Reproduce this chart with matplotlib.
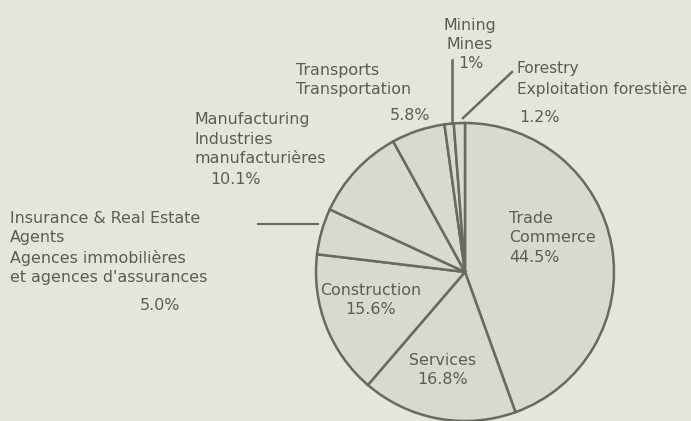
import matplotlib.pyplot as plt

# share of businesses by sector (clockwise from 12 o'clock)
sectors = ['Trade', 'Services', 'Construction', 'Insurance', 'Manufacturing',
           'Transportation', 'Mining', 'Forestry']
shares = [44.5, 16.8, 15.6, 5.0, 10.1, 5.8, 1.0, 1.2]

labels = {
    'Trade': 'Trade\nCommerce\n44.5%',
    'Services': 'Services\n16.8%',
    'Construction': 'Construction\n15.6%',
    'Manufacturing': 'Manufacturing\nIndustries\nmanufacturières',
    'Manufacturing_pct': '10.1%',
    'Transportation': 'Transports\nTransportation',
    'Transportation_pct': '5.8%',
    'Mining': 'Mining\nMines',
    'Mining_pct': '1%',
    'Forestry': 'Forestry\nExploitation forestière',
    'Forestry_pct': '1.2%',
    'Insurance': 'Insurance & Real Estate\nAgents\nAgences immobilières\net agences d\'assurances',
    'Insurance_pct': '5.0%',
}

bg = '#e4e5dd'
fill = '#d8dacf'
edge = '#6a6961'
txt = '#5b5b53'

plt.rcParams['font.family'] = ['DejaVu Sans']

fig = plt.figure(figsize=(6.91, 4.21), dpi=100, facecolor=bg)
ax = fig.add_axes([0, 0, 1, 1])
ax.set_facecolor(bg)

ax.pie(shares, colors=[fill] * len(shares), startangle=90, counterclock=False,
       center=(465, 149), radius=149,
       wedgeprops=dict(edgecolor=edge, linewidth=1.8))
ax.set_xlim(0, 691)
ax.set_ylim(0, 421)
ax.set_aspect('equal')
ax.axis('off')

fs = 11.4
kw = dict(fontsize=fs, color=txt, linespacing=1.35)

ax.text(509, 183, labels['Trade'], ha='left', va='center', **kw)
ax.text(371, 121, labels['Construction'], ha='center', va='center', **kw)
ax.text(443, 51, labels['Services'], ha='center', va='center', **kw)

ax.text(195, 282, labels['Manufacturing'], ha='left', va='center', **kw)
ax.text(236, 241, labels['Manufacturing_pct'], ha='center', va='center', **kw)

ax.text(296, 341, labels['Transportation'], ha='left', va='center', **kw)
ax.text(410, 305, labels['Transportation_pct'], ha='center', va='center', **kw)

ax.text(470, 386, labels['Mining'], ha='center', va='center', **kw)
ax.text(471, 358, labels['Mining_pct'], ha='center', va='center', **kw)
ax.plot([452, 452], [361, 298], color=edge, lw=1.8)

ax.text(517, 342, labels['Forestry'], ha='left', va='center',
        **dict(kw, fontsize=11.1))
ax.text(519, 303, labels['Forestry_pct'], ha='left', va='center', **kw)
ax.plot([512, 463], [349, 303], color=edge, lw=1.8)

ax.text(10, 173, labels['Insurance'], ha='left', va='center', **kw)
ax.text(160, 116, labels['Insurance_pct'], ha='center', va='center', **kw)
ax.plot([258, 318], [197, 197], color=edge, lw=1.5)

fig.savefig('out.png', dpi=100, facecolor=bg)
